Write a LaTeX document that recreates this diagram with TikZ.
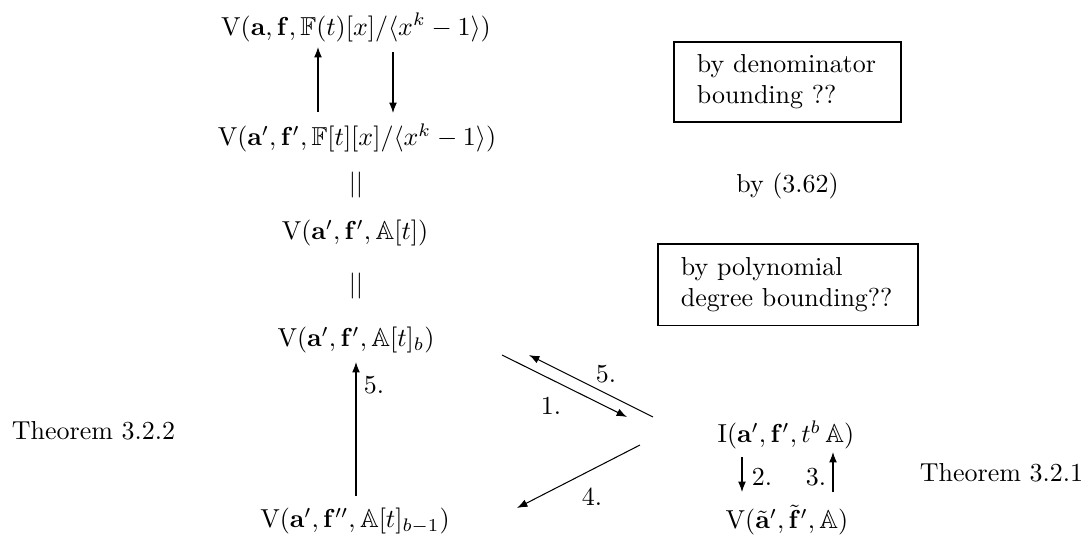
\documentclass[tikz,border=0pt]{standalone}
\usepackage{amsmath,amssymb}
\usetikzlibrary{arrows.meta,calc}
\begin{document}
\begin{tikzpicture}[x=0.385pt,y=-0.385pt,
  every node/.style={inner sep=0pt},
  arr/.style={-{Latex[length=4pt,width=3pt]}},
  lbl/.style={inner sep=0pt},
  boxed/.style={draw, inner xsep=8.85pt, align=left}]
\useasboundingbox (0,0) rectangle (1090,536);
% main column
\node (n1) at (356,27.5) {$\mathrm{V}(\mathbf{a},\mathbf{f},\mathbb{F}(t)[x]/\langle x^k-1\rangle)$};
\node (n2) at (357,138) {$\mathrm{V}(\mathbf{a}',\mathbf{f}',\mathbb{F}[t][x]/\langle x^k-1\rangle)$};
\node (e1) at (356,185) {$||$};
\node (n3) at (355,233) {$\mathrm{V}(\mathbf{a}',\mathbf{f}',\mathbb{A}[t])$};
\node (e2) at (356,285.5) {$||$};
\node (n4) at (356,340) {$\mathrm{V}(\mathbf{a}',\mathbf{f}',\mathbb{A}[t]_b)$};
\node (n5) at (355,521) {$\mathrm{V}(\mathbf{a}',\mathbf{f}'',\mathbb{A}[t]_{b-1})$};
\node (t2) at (93.5,430.5) {Theorem 3.2.2};
% right column
\node (i1) at (786,435) {$\mathrm{I}(\mathbf{a}',\mathbf{f}',t^b\,\mathbb{A})$};
\node (v1) at (787,520) {$\mathrm{V}(\tilde{\mathbf{a}}',\tilde{\mathbf{f}}',\mathbb{A})$};
\node (t1) at (1001.5,473) {Theorem 3.2.1};
% boxes and remark
\node[boxed, text width=69.7pt, minimum width=87.4pt, minimum height=30.8pt] (b1) at (787.5,82) {by denominator\\bounding ??};
\node (r1) at (787.5,185.5) {by (3.62)};
\node[boxed, text width=82.4pt, minimum width=100.1pt, minimum height=31.2pt] (b2) at (788,284.5) {by polynomial\\degree bounding??};
% vertical arrows top
\draw[arr] ($(n1)+(-38,84.5)$) coordinate (a1s) -- ($(n1)+(-38,19.5)$) coordinate (a1e);
\draw[arr] ($(n1)+(37,24.5)$) coordinate (a2s) -- ($(n1)+(37,85.5)$) coordinate (a2e);
% arrow 5 up
\draw[arr] ($(n5)+(1,-25)$) coordinate (a3s) -- ($(n5)+(1,-159)$) coordinate (a3e);
\node[lbl] (l5a) at (374,385) {5.};
% diagonals
\draw[arr] ($(n4)+(146,15)$) coordinate (d1s) -- ($(i1)+(-159,-18)$) coordinate (d1e);
\node[lbl] (l1) at (551,406) {1.};
\draw[arr] ($(i1)+(-133,-18)$) coordinate (d2s) -- ($(n4)+(173,15)$) coordinate (d2e);
\node[lbl] (l5b) at (606,374) {5.};
\draw[arr] ($(i1)+(-146,10)$) coordinate (d3s) -- ($(n5)+(162,-13)$) coordinate (d3e);
\node[lbl] (l4) at (592,497) {4.};
% right verticals
\draw[arr] ($(i1)+(-44,22)$) coordinate (a4s) -- ($(i1)+(-44,57)$) coordinate (a4e);
\node[lbl] (l2) at (762,477) {2.};
\draw[arr] ($(i1)+(47,57)$) coordinate (a5s) -- ($(i1)+(47,17)$) coordinate (a5e);
\node[lbl] (l3) at (816,477) {3.};
\end{tikzpicture}
\end{document}
